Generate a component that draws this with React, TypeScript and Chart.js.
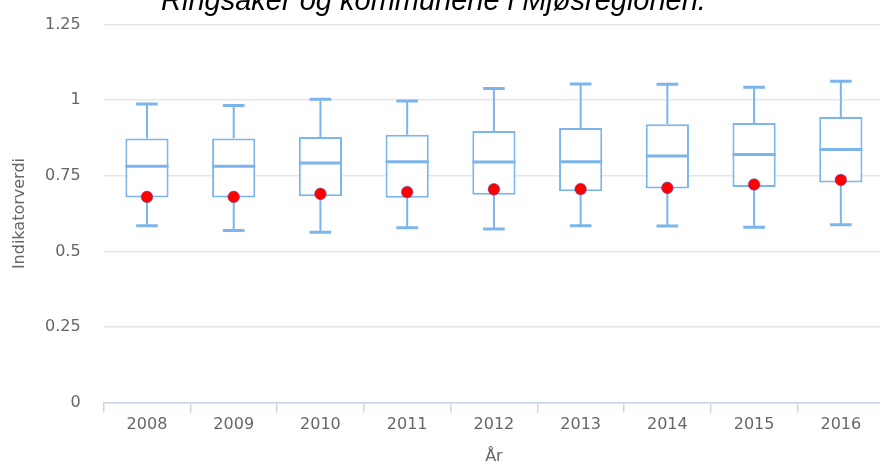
import React, { useEffect, useRef } from "react";
import { Chart, registerables } from "chart.js";

Chart.register(...registerables);

const years = ["2008", "2009", "2010", "2011", "2012", "2013", "2014", "2015", "2016"];
const lowValues = [0.585, 0.569, 0.563, 0.578, 0.574, 0.585, 0.584, 0.58, 0.588];
const q1Values = [0.678, 0.678, 0.682, 0.677, 0.687, 0.699, 0.708, 0.713, 0.728];
const medianValues = [0.781, 0.781, 0.792, 0.796, 0.795, 0.796, 0.815, 0.82, 0.837];
const q3Values = [0.873, 0.873, 0.878, 0.885, 0.898, 0.908, 0.92, 0.924, 0.944];
const highValues = [0.987, 0.982, 1.003, 0.997, 1.038, 1.053, 1.052, 1.042, 1.062];
const ringsakerValues = [0.68, 0.68, 0.69, 0.696, 0.705, 0.706, 0.71, 0.721, 0.736];

const titleText = "Ringsaker og kommunene i Mjøsregionen.";
const yTitle = "Indikatorverdi";
const xTitle = "År";

const BOX_COLOR = "#7cb5ec";
const TEXT_COLOR = "#666666";
const FONT = "'DejaVu Sans', Verdana, sans-serif";

const whiskerPlugin = {
  id: "whiskers",
  afterDatasetDraw(chart: any, args: any) {
    if (args.index !== 1) return;
    const meta = chart.getDatasetMeta(1);
    const yScale = chart.scales.y;
    const ctx = chart.ctx;
    ctx.save();
    ctx.strokeStyle = BOX_COLOR;
    meta.data.forEach((bar: any, i: number) => {
      const x = bar.x;
      const w = bar.width;
      const yQ1 = yScale.getPixelForValue(q1Values[i]);
      const yQ3 = yScale.getPixelForValue(q3Values[i]);
      const yLow = yScale.getPixelForValue(lowValues[i]);
      const yHigh = yScale.getPixelForValue(highValues[i]);
      const yMed = yScale.getPixelForValue(medianValues[i]);
      ctx.lineWidth = 2;
      ctx.beginPath();
      ctx.moveTo(x, yQ3);
      ctx.lineTo(x, yHigh);
      ctx.moveTo(x, yQ1);
      ctx.lineTo(x, yLow);
      ctx.stroke();
      ctx.lineWidth = 3;
      ctx.beginPath();
      ctx.moveTo(x - w / 4, yHigh);
      ctx.lineTo(x + w / 4, yHigh);
      ctx.moveTo(x - w / 4, yLow);
      ctx.lineTo(x + w / 4, yLow);
      ctx.stroke();
      ctx.lineWidth = 3;
      ctx.beginPath();
      ctx.moveTo(x - w / 2, yMed);
      ctx.lineTo(x + w / 2, yMed);
      ctx.stroke();
    });
    ctx.restore();
  },
};

export default function App() {
  const canvasRef = useRef<HTMLCanvasElement | null>(null);

  useEffect(() => {
    const canvas = canvasRef.current;
    if (!canvas) return;
    const chart = new Chart(canvas, {
      type: "bar",
      data: {
        labels: years,
        datasets: [
          {
            type: "line",
            label: "Ringsaker",
            data: ringsakerValues,
            showLine: false,
            pointRadius: 5.8,
            pointHoverRadius: 5.8,
            pointBackgroundColor: "#ff0000",
            pointBorderColor: "rgba(90,70,170,0.55)",
            pointBorderWidth: 1,
            order: 0,
          } as any,
          {
            type: "bar",
            label: "Mjøsregionen",
            data: years.map((_, i) => [q1Values[i], q3Values[i]]),
            backgroundColor: "#ffffff",
            borderColor: BOX_COLOR,
            borderWidth: 2,
            borderSkipped: false,
            categoryPercentage: 1,
            barPercentage: 0.498,
            order: 1,
          } as any,
        ],
      },
      options: {
        responsive: false,
        animation: false,
        events: [],
        layout: { padding: 0 },
        plugins: {
          legend: { display: false },
          tooltip: { enabled: false },
          title: {
            display: true,
            text: titleText,
            color: "#000000",
            font: { family: "'Liberation Sans', Arial, sans-serif", size: 29, style: "italic", weight: "normal" },
            padding: { top: 0, bottom: 4.6 },
          },
        },
        scales: {
          x: {
            type: "category",
            offset: true,
            grid: {
              offset: true,
              drawOnChartArea: false,
              drawTicks: true,
              tickLength: 10,
              color: "#ccd6eb",
              lineWidth: 1.5,
            },
            border: { display: true, color: "#ccd6eb", width: 1.5 },
            ticks: {
              color: TEXT_COLOR,
              font: { family: FONT, size: 16 },
              padding: 3,
              maxRotation: 0,
            },
            title: {
              display: true,
              text: xTitle,
              color: TEXT_COLOR,
              font: { family: FONT, size: 16 },
              padding: { top: 0, bottom: 3.4 },
            },
            afterFit: (s: any) => {
              s.height = 67.3;
            },
          },
          y: {
            min: 0,
            max: 1.25,
            ticks: {
              stepSize: 0.25,
              color: TEXT_COLOR,
              font: { family: FONT, size: 16 },
              padding: 23,
              callback: (v: any) => String(Number(Number(v).toFixed(2))),
            },
            grid: { color: "#e6e6e6", lineWidth: 1.5, drawTicks: false },
            border: { display: false },
            title: {
              display: true,
              text: yTitle,
              color: TEXT_COLOR,
              font: { family: FONT, size: 16 },
              padding: { top: 34, bottom: 0 },
            },
            afterFit: (s: any) => {
              s.width = 127.6;
            },
          },
        },
      },
      plugins: [whiskerPlugin],
    } as any);
    return () => chart.destroy();
  }, []);

  return (
    <div style={{ position: "fixed", left: 0, top: 0, width: 880, height: 462, overflow: "hidden", background: "#fff" }}>
      <canvas
        ref={canvasRef}
        width={915}
        height={485}
        style={{ position: "absolute", left: -24, top: -15, width: 915, height: 485 }}
      />
    </div>
  );
}
